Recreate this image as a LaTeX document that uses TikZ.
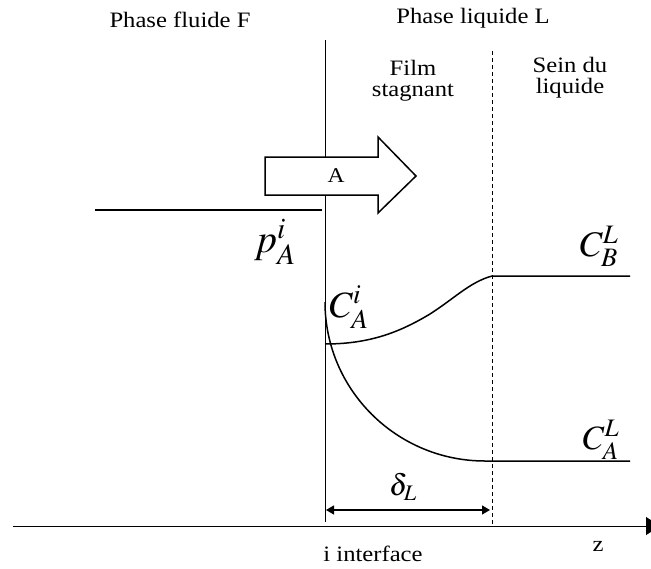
\documentclass[tikz,border=0pt]{standalone}
\usepackage{mathptmx}
\usepackage{fontspec}
\setmainfont[FakeStretch=1.12]{Liberation Serif}
\usetikzlibrary{arrows.meta}
\begin{document}
\begin{tikzpicture}[x=1pt,y=-1pt,
  lbl/.style={inner sep=0pt, font=\fontsize{22}{21}\selectfont, align=center},
  curve/.style={line width=1.5pt}]
\useasboundingbox (0,0) rectangle (651,568);
\coordinate (itop) at (325,40);
\coordinate (ibot) at (325,522);
\coordinate (dtop) at (492,51);
\coordinate (dbot) at (492,526);
\coordinate (zl) at (13,526);
\coordinate (zr) at (660,526);
\coordinate (dl) at (326,510);
\coordinate (dr) at (490,510);
\coordinate (pl) at (95,210);
\coordinate (pr) at (322,210);
\coordinate (bs) at (325,344);
\coordinate (be) at (492,276);
\coordinate (bend) at (630,276);
\coordinate (as) at (325,302);
\coordinate (aend) at (630,461);
\draw[line width=0.9pt] (itop) -- (ibot);
\draw[line width=0.9pt, dash pattern=on 4pt off 3pt] (dtop) -- (dbot);
\draw[line width=1pt, -{Triangle[length=14pt,width=18pt]}] (zl) -- (zr);
\draw[line width=1.2pt, {Triangle[length=8pt,width=9pt]}-{Triangle[length=8pt,width=9pt]}] (dl) -- (dr);
\draw[line width=1.3pt] (pl) -- (pr);
% big arrow
\draw[line width=1.5pt, fill=white] (265,157) -- (378,157) -- (378,137) -- (416,176)
  -- (378,213) -- (378,195) -- (265,195) -- cycle;
\node[lbl, font=\fontsize{21}{21}\selectfont] (A) at (336,176) {A};
% curves
\draw[curve] (bs) .. controls (370,344) and (400,332) .. (430,314)
  .. controls (455,298) and (470,282) .. (be) -- (bend);
\draw[curve] (as) arc[start angle=180, end angle=90, x radius=160, y radius=159] -- (aend);
% labels
\node[lbl] (pf) at (180,20) {Phase fluide F};
\node[lbl] (pliq) at (473,18) {Phase liquide L};
\node[lbl] (film) at (413,81) {Film\\stagnant};
\node[lbl] (sein) at (570,78) {Sein du\\liquide};
\node[inner sep=0pt, font=\fontsize{40}{40}\selectfont] (pA) at (275,242) {$p_A^i$};
\node[inner sep=0pt, font=\fontsize{37}{37}\selectfont] (CAi) at (349,307) {$C_A^i$};
\node[inner sep=0pt, font=\fontsize{36}{36}\selectfont] (CBL) at (599,246) {$C_B^L$};
\node[inner sep=0pt, font=\fontsize{34}{34}\selectfont] (CAL) at (601,440) {$C_A^L$};
\node[inner sep=0pt, font=\fontsize{30}{30}\selectfont] (delta) at (403,487) {$\delta_L$};
\node[lbl] (iface) at (373,554) {i interface};
\node[lbl] (z) at (598,546) {z};
\end{tikzpicture}
\end{document}
